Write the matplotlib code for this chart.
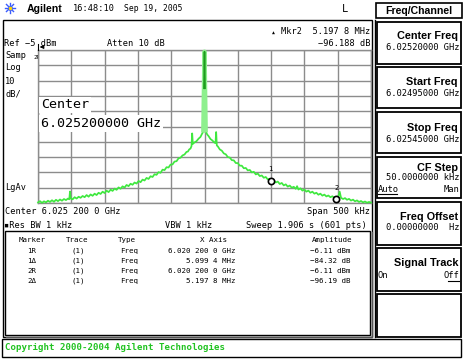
import matplotlib
matplotlib.use("Agg")
import matplotlib.pyplot as plt
from matplotlib.patches import Rectangle
import numpy as np

plt.rcParams['font.family'] = ['DejaVu Sans Mono', 'DejaVu Sans']

# ---------------- data ----------------
center_ghz = 6.0252
span_khz = 500
ref_dbm = -5
db_per_div = 10

offset_khz = [
    -250, -247, -244, -241, -238, -235, -232, -229, -226, -223,
    -220, -217, -214, -211, -208, -205, -203, -202, -201, -198,
    -195, -192, -189, -186, -183, -180, -177, -174, -171, -168,
    -165, -162, -159, -156, -153, -150, -147, -144, -141, -138,
    -135, -132, -129, -126, -123, -120, -117, -114, -111, -108,
    -105, -102, -99, -96, -93, -90, -87, -84, -81, -78,
    -75, -72, -69, -66, -63, -60, -57, -54, -51, -48,
    -45, -42, -39, -36, -33, -30, -27, -25, -23, -21,
    -19.5, -18.5, -17.5, -15, -12, -9, -6, -4, -2.5, -1.7,
    -0.8, 0, 0.8, 1.7, 2.5, 4, 6, 9, 12, 15,
    16.5, 17.5, 18.5, 20, 23, 26, 29, 32, 35, 38,
    41, 44, 47, 50, 53, 56, 59, 62, 65, 68,
    71, 74, 77, 80, 83, 86, 89, 92, 95, 98,
    101, 104, 107, 110, 113, 116, 119, 122, 125, 128,
    131, 134, 137, 139, 141, 144, 147, 150, 153, 156,
    159, 162, 165, 168, 171, 174, 177, 180, 183, 186,
    189, 192, 195, 198, 200, 203, 205, 208, 211, 214,
    217, 220, 223, 226, 229, 232, 235, 238, 241, 244,
    247, 250]
level_dbm = [
    -104.6, -103.8, -104.9, -103.9, -104.6, -103.5, -104.3, -103.2, -104.2, -102.9,
    -103.8, -102.7, -103.5, -102.4, -103.1, -102.1, -102.6, -97.5, -102.0, -102.6,
    -101.2, -102.1, -100.9, -101.6, -100.4, -101.2, -99.8, -100.9, -99.4, -100.3,
    -98.9, -99.8, -98.3, -99.1, -97.6, -98.5, -96.9, -97.9, -96.3, -97.1,
    -95.6, -96.4, -94.8, -95.7, -94.1, -94.9, -93.2, -94.0, -92.4, -93.1,
    -91.6, -92.3, -90.6, -91.4, -89.7, -90.3, -88.6, -89.3, -87.5, -88.0,
    -86.2, -86.6, -84.8, -85.3, -83.2, -83.5, -81.6, -81.8, -79.9, -79.8,
    -77.9, -77.7, -75.8, -75.4, -73.9, -73.3, -71.6, -71.4, -70.0, -69.4,
    -67.8, -59.5, -66.4, -65.4, -64.6, -63.0, -61.8, -60.0, -58.9, -57.5,
    -30.0, -6.1, -30.0, -57.3, -58.6, -60.2, -61.2, -63.2, -64.2, -65.6,
    -65.8, -58.6, -67.4, -68.0, -70.0, -70.8, -72.6, -73.2, -75.0, -75.3,
    -77.0, -77.1, -78.9, -78.9, -80.6, -80.6, -82.3, -82.1, -83.7, -83.4,
    -85.0, -84.6, -86.3, -85.8, -87.4, -87.0, -88.5, -88.0, -89.6, -89.1,
    -90.6, -90.1, -91.6, -91.0, -92.6, -91.9, -93.5, -92.8, -94.3, -93.6,
    -95.0, -94.4, -95.8, -94.0, -96.2, -95.4, -96.9, -96.2, -97.6, -96.9,
    -98.3, -97.6, -98.9, -98.3, -99.6, -98.9, -100.2, -99.5, -100.7, -100.1,
    -101.2, -100.6, -101.7, -101.1, -101.9, -97.6, -101.6, -102.4, -101.8, -102.9,
    -102.3, -103.4, -102.8, -103.9, -103.3, -104.3, -103.7, -104.6, -104.0, -104.8,
    -104.3, -104.7]

marker_names = ["1", "2"]
marker_khz = [99.4, 197.8]
marker_dbm = [-90.43, -102.30]

table_marker = ["1R", "1\u0394", "2R", "2\u0394"]
table_trace = ["(1)", "(1)", "(1)", "(1)"]
table_type = ["Freq", "Freq", "Freq", "Freq"]
table_x = ["6.020 200 0 GHz", "5.099 4 MHz", "6.020 200 0 GHz", "5.197 8 MHz"]
table_amp = ["\u22126.11 dBm", "\u221284.32 dB", "\u22126.11 dBm", "\u221296.19 dB"]

soft_titles = ["Center Freq", "Start Freq", "Stop Freq", "CF Step", "Freq Offset", "Signal Track", ""]
soft_values = ["6.02520000 GHz", "6.02495000 GHz", "6.02545000 GHz", "50.0000000 kHz", "0.00000000  Hz", "", ""]

# ---------------- figure ----------------
W, H = 463, 360
fig = plt.figure(figsize=(W / 100, H / 100), dpi=100)
fig.patch.set_facecolor('white')

bg = fig.add_axes([0, 0, 1, 1], zorder=0)
bg.set_xlim(0, W); bg.set_ylim(H, 0); bg.axis('off')

ax = fig.add_axes([38 / W, 1 - 203 / H, 333 / W, 153 / H], zorder=1)
fg = fig.add_axes([0, 0, 1, 1], zorder=2)
fg.set_xlim(0, W); fg.set_ylim(H, 0); fg.axis('off'); fg.patch.set_alpha(0)

# graticule
grid_c = '#8c8c8c'
ax.set_xlim(-span_khz / 2, span_khz / 2)
ax.set_ylim(ref_dbm - 10 * db_per_div, ref_dbm)
ax.set_xticks(np.linspace(-span_khz / 2, span_khz / 2, 11))
ax.set_yticks(np.arange(ref_dbm - 10 * db_per_div, ref_dbm + 1, db_per_div))
ax.grid(True, color=grid_c, lw=1.0)
ax.tick_params(length=0, labelbottom=False, labelleft=False)
for s in ax.spines.values():
    s.set_color(grid_c); s.set_linewidth(1.0)
ax.set_facecolor('white')

x = np.array(offset_khz, dtype=float)
y = np.array(level_dbm, dtype=float)
ax.plot(x, y, color='#3fe83f', lw=1.25, clip_on=False, zorder=3)
ped = np.abs(x) <= 1.7
ax.plot(x[ped], y[ped], color='#8ef08e', lw=3.2, clip_on=False, zorder=3)
pk = np.abs(x) <= 0.8
ax.plot(x[pk], y[pk], color='#1c9e1c', lw=1.2, clip_on=False, zorder=4)

ax.plot(marker_khz, marker_dbm, 'o', ms=4.5, mfc='white', mec='black', mew=1.2,
        zorder=5, clip_on=False)
for n, mx, my in zip(marker_names, marker_khz, marker_dbm):
    ax.annotate(n, (mx, my), xytext=(0, 6), textcoords='offset points', ha='center',
                va='bottom', fontsize=5, zorder=6)

# ---------------- frames ----------------
def rect(a, x0, y0, x1, y1, lw=1.0, ec='black', fc='none', z=1):
    a.add_patch(Rectangle((x0, y0), x1 - x0, y1 - y0, lw=lw, ec=ec, fc=fc, zorder=z))

rect(bg, 3, 20, 372, 337, lw=1.0)
bg.plot([374.5, 374.5], [20, 337], color='black', lw=1.0)
rect(bg, 5, 231, 370, 335, lw=1.0)
bg.plot([6, 371.5, 371.5], [336.5, 336.5, 232], color='#555555', lw=1.0)
rect(bg, 2, 338.5, 461, 356.5, lw=1.0)
rect(bg, 375.5, 3, 462, 18, lw=1.2)

boxes = [(22, 64), (67, 108), (112, 153), (157, 198), (202, 245), (248, 291), (294, 337)]
for (t, b) in boxes:
    rect(bg, 376.5, t, 460.5, b, lw=1.3)

# ---------------- texts ----------------
sans_b = 'Liberation Sans'
fs = 6.2

# header
for ang in np.linspace(0, np.pi, 4, endpoint=False):
    dx, dy = 5 * np.cos(ang), 5 * np.sin(ang)
    bg.plot([10 - dx, 10 + dx], [8 - dy, 8 + dy], color='#3a5cff', lw=1.0)
bg.plot([10], [8], 'o', ms=3, color='#ffd800', mec='#3a5cff', mew=0.5)
bg.text(27, 8.5, "Agilent", fontsize=7.6, fontweight='bold', family=sans_b, va='center')
bg.text(73, 8.5, "16:48:10", fontsize=fs, va='center')
bg.text(124, 8.5, "Sep 19, 2005", fontsize=5.8, va='center')
bg.text(345, 9, "L", fontsize=7.5, va='center', ha='center')
bg.text(418.5, 10.5, "Freq/Channel", fontsize=7.6, fontweight='bold', family=sans_b,
        va='center', ha='center')

bg.text(4, 43, "Ref \u22125 dBm", fontsize=fs, va='center')
bg.text(107, 43, "Atten 10 dB", fontsize=fs, va='center')
bg.text(370, 32, "Mkr2  5.197 8 MHz", fontsize=fs, va='center', ha='right')
bg.text(273, 32.5, "\u25B2", fontsize=3.5, va='center', ha='center')
bg.text(370, 43.5, "\u221296.188 dB", fontsize=fs, va='center', ha='right')

bg.text(5, 55, "Samp", fontsize=fs, va='center')
bg.text(33, 57.5, "2R", fontsize=4.3, va='center')
fg.annotate("", xy=(37, 47), xytext=(45, 47),
            arrowprops=dict(arrowstyle='-|>', lw=0.8, color='black', mutation_scale=5))
fg.plot([37.5, 37.5], [44, 50], color='black', lw=0.8)
bg.text(5, 68, "Log", fontsize=fs, va='center')
bg.text(5, 81, "10", fontsize=fs, va='center')
bg.text(5, 94, "dB/", fontsize=fs, va='center')
bg.text(5, 187, "LgAv", fontsize=fs, va='center')

big = dict(fontsize=9.6, va='center', ha='left',
           bbox=dict(boxstyle='square,pad=0.12', fc='white', ec='none'))
fg.text(41, 105, "Center", **big)
fg.text(41, 123.5, "6.025200000 GHz", **big)

bg.text(5, 212, "Center 6.025 200 0 GHz", fontsize=fs, va='center')
bg.text(370, 212, "Span 500 kHz", fontsize=fs, va='center', ha='right')
bg.text(4, 225, "\u25AARes BW 1 kHz", fontsize=fs, va='center')
bg.text(165, 225, "VBW 1 kHz", fontsize=fs, va='center')
bg.text(367, 225, "Sweep 1.906 s (601 pts)", fontsize=fs, va='center', ha='right')

tfs = 5.4
bg.text(32, 240, "Marker", fontsize=tfs, va='center', ha='center')
bg.text(77, 240, "Trace", fontsize=tfs, va='center', ha='center')
bg.text(118, 240, "Type", fontsize=tfs, va='center', ha='left')
bg.text(213, 240, "X Axis", fontsize=tfs, va='center', ha='center')
bg.text(332, 240, "Amplitude", fontsize=tfs, va='center', ha='center')
for i in range(4):
    yy = 251 + 10 * i
    bg.text(32, yy, table_marker[i], fontsize=tfs, va='center', ha='center')
    bg.text(78, yy, table_trace[i], fontsize=tfs, va='center', ha='center')
    bg.text(120, yy, table_type[i], fontsize=tfs, va='center', ha='left')
    bg.text(235, yy, table_x[i], fontsize=tfs, va='center', ha='right')
    bg.text(351, yy, table_amp[i], fontsize=tfs, va='center', ha='right')

bg.text(5, 347.5, "Copyright 2000-2004 Agilent Technologies", fontsize=6.6,
        fontweight='bold', color='#22c322', va='center')

title_y = [36, 82, 128, 168, 217, 263]
value_y = [48, 93, 140, 177, 228]
for i, t in enumerate(soft_titles):
    if t:
        bg.text(458, title_y[i], t, fontsize=7.8, fontweight='bold', family=sans_b,
                va='center', ha='right')
for i, v in enumerate(soft_values):
    if v:
        bg.text(459, value_y[i], v, fontsize=6.3, va='center', ha='right')

sfs = 6.3
bg.text(378, 189, "Auto", fontsize=sfs, va='center', ha='left')
bg.plot([378, 397], [194, 194], color='black', lw=0.8)
bg.text(459, 189, "Man", fontsize=sfs, va='center', ha='right')
bg.text(378, 276, "On", fontsize=sfs, va='center', ha='left')
bg.text(459, 276, "Off", fontsize=sfs, va='center', ha='right')
bg.plot([448, 459], [281, 281], color='black', lw=0.8)

fig.savefig("out.png", dpi=100, facecolor='white')
